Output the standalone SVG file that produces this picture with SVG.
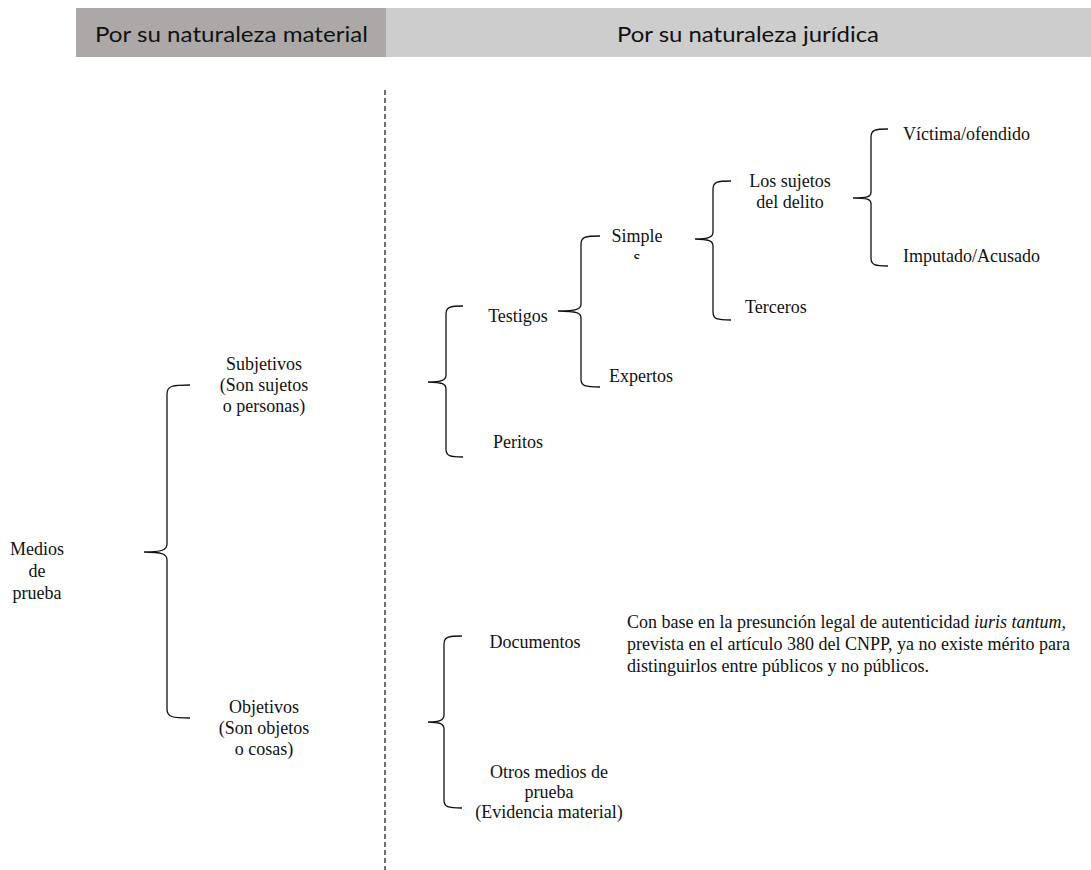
<svg xmlns="http://www.w3.org/2000/svg" width="1091" height="870" viewBox="0 0 1091 870">
<style>
.t{font-family:"Liberation Serif","Times New Roman",serif;font-size:18px;fill:#111}
.c{text-anchor:middle}
.h{font-family:Lato,"Open Sans",sans-serif;font-size:22px;fill:#111}
.br{fill:none;stroke:#111;stroke-width:1.3}
</style>
<defs>
<clipPath id="clipS"><rect x="620" y="240" width="40" height="19"/></clipPath>
</defs>
<rect width="1091" height="870" fill="#fff"/>
<g id="header-material">
<rect x="76" y="8" width="310" height="49" fill="#ada8a8"/>
<text class="h" x="95" y="42" textLength="273" lengthAdjust="spacingAndGlyphs">Por su naturaleza material</text>
</g>
<g id="header-juridica">
<rect x="386" y="8" width="705" height="49" fill="#cdcdcd"/>
<text class="h" x="617" y="42" textLength="262" lengthAdjust="spacingAndGlyphs">Por su naturaleza jurídica</text>
</g>
<g id="connectors">
<line x1="385" y1="90" x2="385" y2="870" stroke="#111" stroke-width="1.2" stroke-dasharray="5,3"/>
<path class="br" d="M190 385 C172 385 167 386 167 394 L167 544 C167 550 162 552 144 552 C162 552 167 554 167 560 L167 709 C167 717 172 718 190 718"/>
<path class="br" d="M463 306 C450 306 446 307 446 314 L446 375 C446 380 442 382 428 382 C442 382 446 384 446 389 L446 449 C446 456 450 457 463 457"/>
<path class="br" d="M600 236 C585 236 581 237 581 244 L581 304 C581 309 577 311 558 311 C577 311 581 313 581 318 L581 379 C581 386 585 387 600 387"/>
<path class="br" d="M731 181 C717 181 713 182 713 189 L713 232 C713 237 709 239 695 239 C709 239 713 241 713 246 L713 312 C713 319 717 320 731 320"/>
<path class="br" d="M888 129 C875 129 871 130 871 137 L871 192 C871 197 867 198 853 198 C867 198 871 199 871 204 L871 258 C871 265 875 266 888 266"/>
<path class="br" d="M462 636 C448 636 444 637 444 644 L444 715 C444 720 440 722 428 722 C440 722 444 724 444 729 L444 800 C444 807 448 808 462 808"/>
</g>
<g id="node-medios">
<text class="t c" x="37" y="555">Medios</text>
<text class="t c" x="37" y="577">de</text>
<text class="t c" x="37" y="599">prueba</text>
</g>
<g id="node-subjetivos">
<text class="t c" x="264" y="370">Subjetivos</text>
<text class="t c" x="264" y="391">(Son sujetos</text>
<text class="t c" x="264" y="412">o personas)</text>
</g>
<g id="node-objetivos">
<text class="t c" x="264" y="713">Objetivos</text>
<text class="t c" x="264" y="734">(Son objetos</text>
<text class="t c" x="264" y="755">o cosas)</text>
</g>
<g id="node-testigos"><text class="t c" x="518" y="322">Testigos</text></g>
<g id="node-peritos"><text class="t c" x="518" y="448">Peritos</text></g>
<g id="node-simples">
<text class="t c" x="637" y="242">Simple</text>
<text class="t c" x="637" y="263" clip-path="url(#clipS)">s</text>
</g>
<g id="node-expertos"><text class="t" x="609" y="382">Expertos</text></g>
<g id="node-sujetos">
<text class="t c" x="790" y="187">Los sujetos</text>
<text class="t c" x="790" y="208">del delito</text>
</g>
<g id="node-terceros"><text class="t" x="745" y="313">Terceros</text></g>
<g id="node-victima"><text class="t" x="903" y="140">Víctima/ofendido</text></g>
<g id="node-imputado"><text class="t" x="903" y="262">Imputado/Acusado</text></g>
<g id="node-documentos"><text class="t c" x="535" y="648">Documentos</text></g>
<g id="node-otros">
<text class="t c" x="549" y="778">Otros medios de</text>
<text class="t c" x="549" y="798">prueba</text>
<text class="t c" x="549" y="818">(Evidencia material)</text>
</g>
<g id="node-nota">
<text class="t" x="627" y="628">Con base en la presunción legal de autenticidad <tspan font-style="italic">iuris tantum,</tspan></text>
<text class="t" x="627" y="650">prevista en el artículo 380 del CNPP, ya no existe mérito para</text>
<text class="t" x="627" y="672">distinguirlos entre públicos y no públicos.</text>
</g>
</svg>
